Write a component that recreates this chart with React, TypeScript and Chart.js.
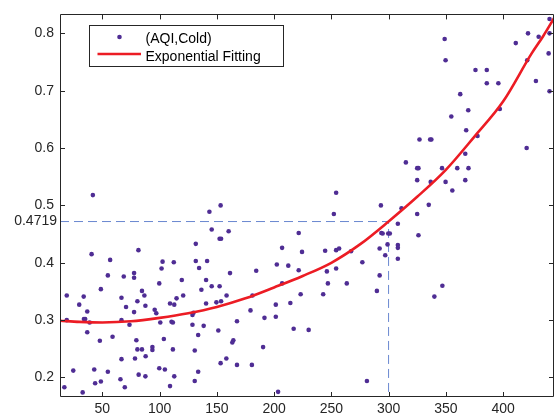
import React, { useEffect, useRef } from "react";
import { Chart, registerables } from "chart.js";

Chart.register(...registerables);

const aqi = [
  40.6, 56.8, 81.5, 54.8, 48.7, 68.7, 77.7, 77.7, 102.6, 101.7, 99.7, 84.6, 86.7, 18.9, 33.7, 66.7, 80.6, 29.8, 36.8, 18.9,
  33.9, 35.0, 38.9, 66.7, 73.7, 70.7, 77.7, 87.6, 95.7, 97.1, 100.6, 109.1, 36.8, 47.8, 58.9, 79.7, 80.6, 84.6, 93.7, 93.7,
  103.7, 87.8, 78.5, 66.7, 24.6, 42.9, 54.8, 99.7, 104.6, 81.7, 87.6, 65.8, 43.7, 48.7, 69.6, 16.8, 32.8, 109.1, 112.8, 114.8,
  140.6, 149.6, 153.7, 201.5, 179.4, 129.6, 128.7, 191.6, 167.6, 201.5, 110.4, 111.6, 128.7, 138.5, 151.3, 133.7, 164.4, 163.5, 190.4, 111.6,
  130.7, 158.3, 153.3, 167.6, 180.6, 133.7, 112.8, 130.7, 203.5, 153.3, 143.5, 145.5, 160.3, 152.4, 153.7, 131.6, 112.4, 131.6, 141.5, 134.5,
  161.5, 184.4, 202.4, 119.4, 140.6, 136.5, 145.5, 152.4, 120.6, 158.5, 181.1, 41.7, 252.2, 293.3, 311.3, 325.0, 335.1, 308.1, 326.1, 221.5,
  293.7, 294.8, 299.7, 301.1, 207.0, 224.4, 244.6, 254.2, 256.8, 267.2, 292.2, 299.1, 308.1, 308.1, 297.1, 308.1, 212.4, 221.5, 246.1, 254.2,
  277.1, 292.2, 207.0, 247.0, 263.5, 347.0, 340.0, 223.2, 242.9, 289.8, 214.2, 217.1, 230.2, 281.1, 440.6, 421.8, 431.1, 440.6, 411.1, 349.0,
  349.8, 439.8, 421.1, 375.9, 385.8, 385.8, 395.9, 428.7, 440.6, 362.6, 369.6, 397.2, 354.8, 367.8, 377.7, 327.0, 336.3, 337.4, 420.6, 367.0,
  315.1, 325.0, 326.1, 346.7, 360.0, 369.8, 325.0, 336.8, 349.8, 367.0, 355.7, 254.2,
];

const cold = [
  0.415, 0.405, 0.422, 0.378, 0.354, 0.376, 0.382, 0.374, 0.402, 0.390, 0.364, 0.351, 0.343, 0.343, 0.341, 0.339, 0.333, 0.327, 0.315, 0.300,
  0.302, 0.302, 0.296, 0.300, 0.292, 0.323, 0.314, 0.325, 0.318, 0.312, 0.296, 0.329, 0.279, 0.264, 0.271, 0.265, 0.249, 0.249, 0.253, 0.248,
  0.267, 0.237, 0.233, 0.232, 0.212, 0.214, 0.210, 0.216, 0.214, 0.205, 0.202, 0.197, 0.190, 0.193, 0.183, 0.183, 0.174, 0.185, 0.327, 0.338,
  0.329, 0.331, 0.333, 0.327, 0.317, 0.313, 0.309, 0.304, 0.298, 0.306, 0.297, 0.296, 0.292, 0.290, 0.282, 0.274, 0.265, 0.261, 0.253, 0.249,
  0.247, 0.233, 0.225, 0.222, 0.222, 0.210, 0.202, 0.194, 0.175, 0.500, 0.489, 0.458, 0.455, 0.442, 0.442, 0.433, 0.401, 0.403, 0.403, 0.391,
  0.382, 0.386, 0.397, 0.370, 0.370, 0.353, 0.359, 0.359, 0.343, 0.343, 0.343, 0.518, 0.485, 0.500, 0.495, 0.485, 0.501, 0.468, 0.448, 0.452,
  0.452, 0.451, 0.451, 0.451, 0.426, 0.419, 0.421, 0.422, 0.425, 0.420, 0.425, 0.432, 0.431, 0.426, 0.413, 0.407, 0.395, 0.387, 0.385, 0.390,
  0.401, 0.378, 0.364, 0.364, 0.364, 0.360, 0.341, 0.345, 0.345, 0.351, 0.330, 0.285, 0.283, 0.194, 0.825, 0.800, 0.794, 0.800, 0.783, 0.790,
  0.753, 0.765, 0.753, 0.736, 0.736, 0.713, 0.713, 0.717, 0.699, 0.694, 0.666, 0.668, 0.655, 0.631, 0.621, 0.615, 0.615, 0.615, 0.600, 0.590,
  0.575, 0.565, 0.565, 0.565, 0.565, 0.565, 0.544, 0.541, 0.541, 0.544, 0.526, 0.522,
];

const fitX = [13, 30, 50, 75, 100, 125, 150, 175, 200, 225, 250, 275, 300, 325, 350, 375, 400, 425, 435, 445];
const fitY = [0.299, 0.297, 0.296, 0.298, 0.304, 0.312, 0.323, 0.338, 0.357, 0.377, 0.4, 0.432, 0.472, 0.515, 0.562, 0.62, 0.681, 0.765, 0.795, 0.828];

const xTicks = [50, 100, 150, 200, 250, 300, 350, 400];
const yTicks = [0.2, 0.3, 0.4, 0.5, 0.6, 0.7, 0.8];
const xRange = [13, 444.5];
const yRange = [0.166, 0.833];
const markX = 300;
const markY = 0.4719;
const markLabel = "0.4719";
const legendLabels = ["(AQI,Cold)", "Exponential Fitting"];

const FONT = "'Liberation Sans', Arial, Helvetica, sans-serif";
const TEXT = "#262626";
const RED = "#ec1c24";
const PURPLE = "#4f2d94";
const DASH = "#6a88d0";

const framePlugin = {
  id: "matlabFrame",
  afterDatasetsDraw(chart: any) {
    const { ctx, chartArea: a, scales } = chart;
    const xs = scales.x;
    const ys = scales.y;
    ctx.save();
    ctx.strokeStyle = TEXT;
    ctx.lineWidth = 1;
    ctx.beginPath();
    ctx.rect(Math.round(a.left) + 0.5, Math.round(a.top) + 0.5, Math.round(a.right - a.left) - 1, Math.round(a.bottom - a.top) - 1);
    ctx.stroke();
    ctx.beginPath();
    for (const v of xTicks) {
      const px = Math.round(xs.getPixelForValue(v)) + 0.5;
      ctx.moveTo(px, a.bottom);
      ctx.lineTo(px, a.bottom - 5);
      ctx.moveTo(px, a.top);
      ctx.lineTo(px, a.top + 5);
    }
    for (const v of yTicks) {
      const py = Math.round(ys.getPixelForValue(v)) + 0.5;
      ctx.moveTo(a.left, py);
      ctx.lineTo(a.left + 5, py);
      ctx.moveTo(a.right, py);
      ctx.lineTo(a.right - 5, py);
    }
    ctx.stroke();

    // extra label for marked value
    ctx.fillStyle = TEXT;
    ctx.font = `14px ${FONT}`;
    ctx.textAlign = "right";
    ctx.textBaseline = "middle";
    ctx.fillText(markLabel, a.left - 3, ys.getPixelForValue(markY));

    // legend
    const lx = 89.5, ly = 25.5, lw = 194, lh = 41;
    ctx.fillStyle = "#ffffff";
    ctx.fillRect(lx, ly, lw, lh);
    ctx.strokeStyle = TEXT;
    ctx.strokeRect(lx, ly, lw, lh);
    ctx.fillStyle = PURPLE;
    ctx.beginPath();
    ctx.arc(119.5, 37, 2.3, 0, Math.PI * 2);
    ctx.fill();
    ctx.strokeStyle = RED;
    ctx.lineWidth = 2.6;
    ctx.beginPath();
    ctx.moveTo(97.5, 54);
    ctx.lineTo(141, 54);
    ctx.stroke();
    ctx.fillStyle = "#000";
    ctx.textAlign = "left";
    ctx.textBaseline = "alphabetic";
    ctx.fillText(legendLabels[0], 145.5, 42.5);
    ctx.fillText(legendLabels[1], 145.5, 60.7);
    ctx.restore();
  },
};

export default function App() {
  const ref = useRef<HTMLCanvasElement>(null);
  useEffect(() => {
    const canvas = ref.current;
    if (!canvas) return;
    const chart = new Chart(canvas, {
      type: "scatter",
      data: {
        datasets: [
          {
            type: "line",
            label: legendLabels[1],
            data: fitX.map((x, i) => ({ x, y: fitY[i] })),
            borderColor: RED,
            borderWidth: 2.6,
            pointRadius: 0,
            cubicInterpolationMode: "monotone",
            fill: false,
          } as any,
          {
            label: legendLabels[0],
            data: aqi.map((x, i) => ({ x, y: cold[i] })),
            backgroundColor: PURPLE,
            borderWidth: 0,
            pointRadius: 2.3,
          },
          {
            type: "line",
            label: "mark",
            data: [
              { x: xRange[0], y: markY },
              { x: markX, y: markY },
              { x: markX, y: yRange[0] },
            ],
            borderColor: DASH,
            borderWidth: 1,
            borderDash: [9, 5],
            pointRadius: 0,
            tension: 0,
            fill: false,
          } as any,
        ],
      },
      options: {
        responsive: false,
        animation: false,
        devicePixelRatio: 1,
        layout: { padding: { top: 4, right: 2, left: 0, bottom: 0 } },
        plugins: { legend: { display: false }, tooltip: { enabled: false } },
        scales: {
          x: {
            type: "linear",
            min: xRange[0],
            max: xRange[1],
            afterBuildTicks: (s: any) => {
              s.ticks = xTicks.map((v) => ({ value: v }));
            },
            afterFit: (s: any) => {
              s.height = 21;
            },
            grid: { display: false, drawTicks: false },
            border: { display: false },
            ticks: {
              color: TEXT,
              font: { family: FONT, size: 14 },
              padding: 4,
              maxRotation: 0,
              autoSkip: false,
              callback: (v: any) => String(v),
            },
          },
          y: {
            type: "linear",
            min: yRange[0],
            max: yRange[1],
            afterBuildTicks: (s: any) => {
              s.ticks = yTicks.map((v) => ({ value: v }));
            },
            afterFit: (s: any) => {
              s.width = 60;
            },
            grid: { display: false, drawTicks: false },
            border: { display: false },
            ticks: {
              color: TEXT,
              font: { family: FONT, size: 14 },
              padding: 6,
              autoSkip: false,
              callback: (v: any) => Number(v).toFixed(1),
            },
          },
        },
      },
      plugins: [framePlugin],
    });
    return () => chart.destroy();
  }, []);
  return (
    <div style={{ position: "fixed", left: 0, top: 0, width: 558, height: 418, background: "#fff" }}>
      <canvas ref={ref} width={558} height={418} style={{ display: "block", width: 558, height: 418 }} />
    </div>
  );
}
